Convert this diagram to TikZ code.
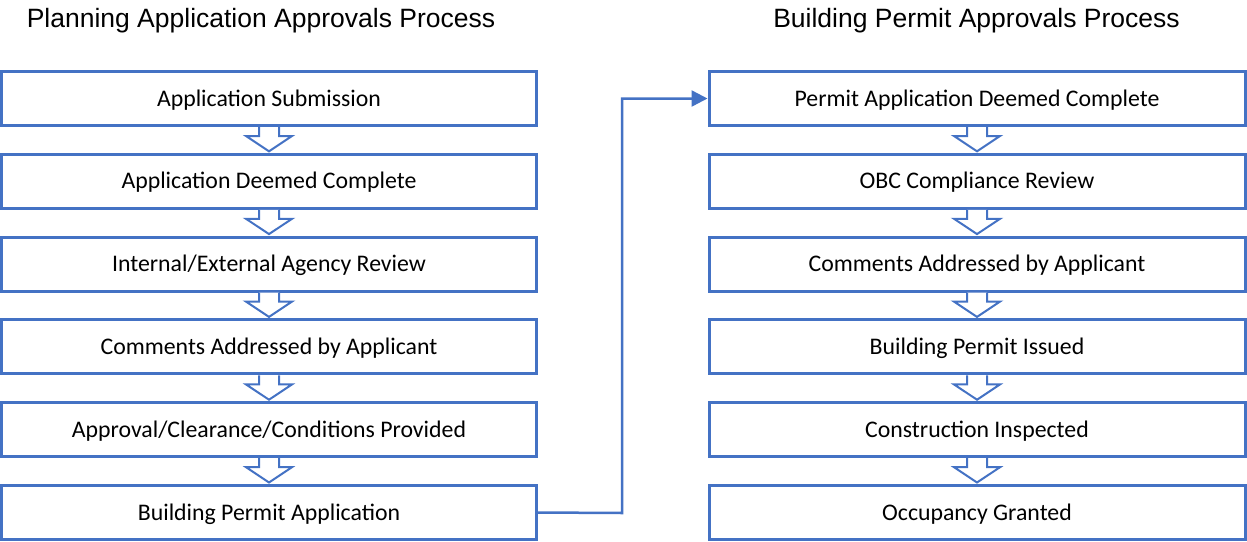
\documentclass[tikz,border=0pt]{standalone}
\usepackage{fontspec}
\setmainfont{Carlito}
\newfontfamily\titlefont{Liberation Sans}
\usetikzlibrary{arrows.meta,calc}
\definecolor{officeblue}{HTML}{4472C4}
\tikzset{
  stepbox/.style={draw=officeblue, line width=3pt, minimum width=535pt, minimum height=54pt, inner sep=0pt, font=\fontsize{23.8}{28}\selectfont, fill=white, text depth=0pt, text height=15.3pt},
  titletext/.style={font=\titlefont\fontsize{26.5}{30}\selectfont, inner sep=0pt, text depth=0pt, text height=19pt},
  flowarrow/.style={draw=officeblue, line width=2pt, fill=white, line join=miter},
  link/.style={draw=officeblue, line width=2.5pt, -{Triangle[length=16pt,width=16pt]}}
}
\begin{document}
\begin{tikzpicture}[x=1pt,y=-1pt]
\useasboundingbox (0,0) rectangle (1247,541);
\node[titletext] (tl) at (261,17.5) {Planning Application Approvals Process};
\node[titletext] (tr) at (976.5,17.5) {Building Permit Approvals Process};
\foreach \i/\txt in {0/{Application Submission},1/{Application Deemed Complete},2/{Internal/External Agency Review},3/{Comments Addressed by Applicant},4/{Approval/Clearance/Conditions Provided},5/{Building Permit Application}}{
  \node[stepbox] (l\i) at (269,98.5+82.8*\i) {\txt};
}
\foreach \i/\txt in {0/{Permit Application Deemed Complete},1/{OBC Compliance Review},2/{Comments Addressed by Applicant},3/{Building Permit Issued},4/{Construction Inspected},5/{Occupancy Granted}}{
  \node[stepbox, minimum width=536pt] (r\i) at (977,98.5+82.8*\i) {\txt};
}
\foreach \s in {l,r}{
  \foreach \i [evaluate=\i as \j using int(\i+1)] in {0,...,4}{
    \path[flowarrow] ($(\s\i.south)+(-10,0)$) -- ++(0,9) -- ++(-13,0) -- ($(\s\j.north)+(0,-1.5)$) -- ($(\s\i.south)+(23,9)$) -- ++(-13,0) -- ($(\s\i.south)+(10,0)$);
  }
}
\coordinate (bend) at (622,513);
\draw[link] (l5.east) -- (bend) |- (r0.west);
\end{tikzpicture}
\end{document}
